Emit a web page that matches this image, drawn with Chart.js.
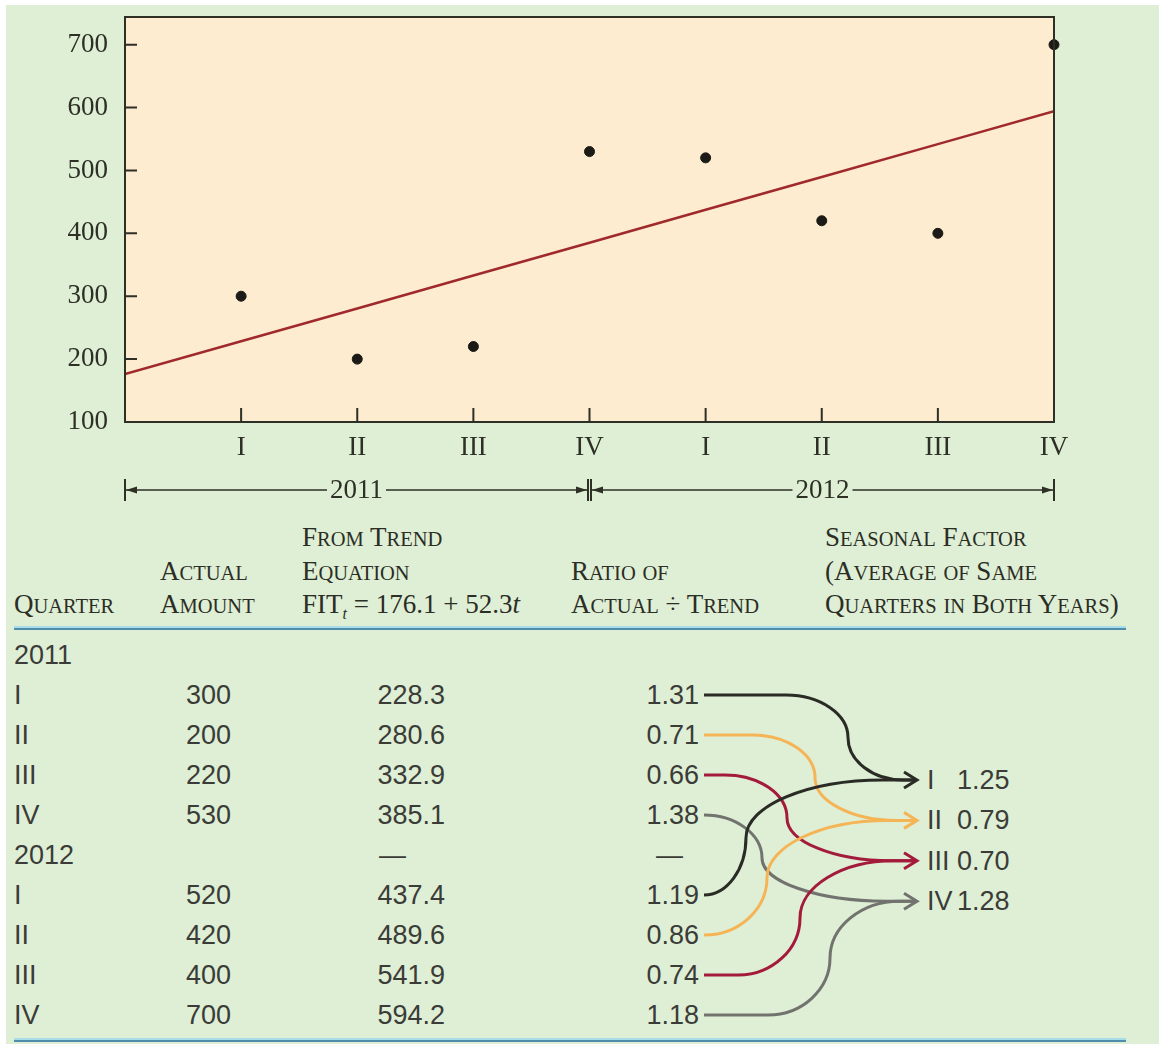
<!DOCTYPE html>
<html>
<head>
<meta charset="utf-8">
<script src="https://cdn.jsdelivr.net/npm/chart.js@4.4.0/dist/chart.umd.min.js"></script>
<style>
body { margin: 0; background: #fff; width: 1159px; height: 1044px; overflow: hidden; position: relative; }
#panel { position: absolute; left: 6px; top: 5px; width: 1153px; height: 1039px; background: #deefd6; }
#chartBox { position: absolute; left: 0; top: 0; width: 1159px; height: 520px; }
.hd { position: absolute; font-family: "Liberation Serif", serif; font-size: 27px; color: #2c2d24; white-space: nowrap; line-height: 30px; height: 30px; }
.hd small { font-size: 20.5px; }
.hd sub { font-size: 16px; font-style: italic; vertical-align: -6px; }
.cell { position: absolute; font-family: "Liberation Sans", Arial, sans-serif; font-size: 27px; color: #3b3c37; white-space: nowrap; line-height: 30px; height: 30px; }
.rule { position: absolute; left: 14px; width: 1112px; height: 2px; background: #4f8eaa; border-top: 2px solid #a9dce9; }
#links { position: absolute; left: 0; top: 0; }
</style>
</head>
<body>
<div id="panel"></div>
<div id="chartBox"><canvas id="chart"></canvas></div>
<div id="table"></div>
<svg id="links" width="1159" height="1044"></svg>
<script>
var quarterLabels = ['I', 'II', 'III', 'IV', 'I', 'II', 'III', 'IV'];
var yearLabels = ['2011', '2012'];
var actualAmount = [300, 200, 220, 530, 520, 420, 400, 700];
// FIT_t = 176.1 + 52.3t, for t = 0..8
var trendValues = [176.1, 228.3, 280.6, 332.9, 385.1, 437.4, 489.6, 541.9, 594.2];
var ratioValues = [1.31, 0.71, 0.66, 1.38, 1.19, 0.86, 0.74, 1.18];
var seasonalLabels = ['I', 'II', 'III', 'IV'];
var seasonalFactors = [1.25, 0.79, 0.70, 1.28];
var yTicks = [100, 200, 300, 400, 500, 600, 700];
var xTicks = [1, 2, 3, 4, 5, 6, 7, 8];

var inkColor = '#2e2f25';
var serifFont = { family: 'Liberation Serif', size: 27 };

var chartDecor = {
  id: 'chartDecor',
  beforeDraw: function(chart) {
    var a = chart.chartArea, ctx = chart.ctx;
    ctx.save();
    ctx.fillStyle = '#fdecd0';
    ctx.fillRect(a.left, a.top, a.right - a.left, a.bottom - a.top);
    ctx.restore();
  },
  afterDraw: function(chart) {
    var a = chart.chartArea, ctx = chart.ctx;
    var xs = chart.scales.x, ys = chart.scales.y;
    ctx.save();
    ctx.strokeStyle = inkColor;
    ctx.lineWidth = 2;
    ctx.strokeRect(a.left, a.top, a.right - a.left, a.bottom - a.top);

    // tick marks point into the plot
    ctx.beginPath();
    yTicks.forEach(function(v) {
      if (v === ys.min) return;
      var y = ys.getPixelForValue(v);
      ctx.moveTo(a.left, y);
      ctx.lineTo(a.left + 12, y);
    });
    xTicks.forEach(function(v) {
      var x = xs.getPixelForValue(v);
      ctx.moveTo(x, a.bottom);
      ctx.lineTo(x, a.bottom - 14);
    });
    ctx.stroke();

    // year brackets under the axis
    var by = 490;
    ctx.font = '27px "Liberation Serif"';
    ctx.textAlign = 'center';
    ctx.textBaseline = 'middle';
    ctx.fillStyle = inkColor;
    for (var k = 0; k < yearLabels.length; k++) {
      var l = xs.getPixelForValue(k * 4), r = xs.getPixelForValue(k * 4 + 4);
      if (k > 0) l += 1.5;
      if (k < yearLabels.length - 1) r -= 1.5;
      var mid = (l + r) / 2;
      var half = ctx.measureText(yearLabels[k]).width / 2 + 3;
      ctx.lineWidth = 2;
      ctx.beginPath();
      ctx.moveTo(l, by - 11); ctx.lineTo(l, by + 11);
      ctx.moveTo(r, by - 11); ctx.lineTo(r, by + 11);
      ctx.stroke();
      ctx.lineWidth = 1.6;
      ctx.beginPath();
      ctx.moveTo(l, by); ctx.lineTo(mid - half, by);
      ctx.moveTo(mid + half, by); ctx.lineTo(r, by);
      ctx.stroke();
      ctx.beginPath();
      ctx.moveTo(l + 1, by); ctx.lineTo(l + 12, by - 3.5); ctx.lineTo(l + 12, by + 3.5); ctx.closePath();
      ctx.moveTo(r - 1, by); ctx.lineTo(r - 12, by - 3.5); ctx.lineTo(r - 12, by + 3.5); ctx.closePath();
      ctx.fill();
      ctx.fillText(yearLabels[k], mid, by + 1);
    }
    ctx.restore();
  }
};

new Chart(document.getElementById('chart'), {
  type: 'scatter',
  data: {
    datasets: [{
      type: 'line',
      data: trendValues.map(function(v, t) { return { x: t, y: v }; }),
      borderColor: '#a0292b',
      borderWidth: 2.5,
      pointRadius: 0,
      fill: false
    }, {
      data: actualAmount.map(function(v, i) { return { x: i + 1, y: v }; }),
      backgroundColor: '#1c1a16',
      borderColor: '#1c1a16',
      pointRadius: 5,
      clip: false
    }]
  },
  options: {
    responsive: true,
    maintainAspectRatio: false,
    animation: false,
    layout: { padding: { top: 17, right: 105, bottom: 0, left: 0 } },
    plugins: { legend: { display: false }, tooltip: { enabled: false } },
    scales: {
      x: {
        type: 'linear', min: 0, max: 8,
        grid: { display: false, drawTicks: false }, border: { display: false },
        afterBuildTicks: function(s) { s.ticks = xTicks.map(function(v) { return { value: v }; }); },
        afterFit: function(s) { s.height = 98; s.paddingLeft = 0; s.paddingRight = 0; },
        ticks: {
          autoSkip: false, maxRotation: 0, padding: 10,
          font: serifFont, color: inkColor,
          callback: function(v) { return quarterLabels[v - 1]; }
        }
      },
      y: {
        min: 100, max: 744,
        grid: { display: false, drawTicks: false }, border: { display: false },
        afterBuildTicks: function(s) { s.ticks = yTicks.map(function(v) { return { value: v }; }); },
        afterFit: function(s) { s.width = 125; s.paddingTop = 0; s.paddingBottom = 0; },
        ticks: { padding: 17, font: serifFont, color: inkColor }
      }
    }
  },
  plugins: [chartDecor]
});

// table below the chart
var table = document.getElementById('table');
function put(cls, html, left, center, align) {
  var d = document.createElement('div');
  d.className = cls;
  d.innerHTML = html;
  d.style.top = (center - 15) + 'px';
  if (align === 'right') {
    d.style.left = (left - 200) + 'px';
    d.style.width = '200px';
    d.style.textAlign = 'right';
  } else {
    d.style.left = left + 'px';
  }
  table.appendChild(d);
}
function smallCaps(s) {
  return s.replace(/[a-z]+/g, function(m) { return '<small>' + m.toUpperCase() + '</small>'; });
}

var headers = [
  [302, 537, 'From Trend'], [825, 537, 'Seasonal Factor'],
  [160, 571, 'Actual'], [302, 571, 'Equation'], [571, 571, 'Ratio of'], [825, 571, '(Average of Same'],
  [14, 604, 'Quarter'], [160, 604, 'Amount'], [571, 604, 'Actual \u00f7 Trend'], [825, 604, 'Quarters in Both Years)']
];
headers.forEach(function(h) { put('hd', smallCaps(h[2]), h[0], h[1]); });
put('hd', 'FIT<sub>t</sub> = 176.1 + 52.3<i>t</i>', 302, 604);

var rule1 = document.createElement('div');
rule1.className = 'rule'; rule1.style.top = '626px';
table.appendChild(rule1);
var rule2 = document.createElement('div');
rule2.className = 'rule'; rule2.style.top = '1038px';
table.appendChild(rule2);

function rowCenter(r) { return 655 + 40 * r; }
function dataRow(i) { return i < 4 ? i + 1 : i + 2; }

yearLabels.forEach(function(y, k) { put('cell', y, 14, rowCenter(k * 5)); });
put('cell', '\u2014', 379, rowCenter(5));
put('cell', '\u2014', 656, rowCenter(5));
for (var i = 0; i < quarterLabels.length; i++) {
  var c = rowCenter(dataRow(i));
  put('cell', quarterLabels[i], 14, c);
  put('cell', String(actualAmount[i]), 231, c, 'right');
  put('cell', trendValues[i + 1].toFixed(1), 445, c, 'right');
  put('cell', ratioValues[i].toFixed(2), 699, c, 'right');
}

function seasonCenter(q) { return 780 + 40.4 * q; }
seasonalLabels.forEach(function(s, q) {
  put('cell', s, 927, seasonCenter(q));
  put('cell', seasonalFactors[q].toFixed(2), 957, seasonCenter(q));
});

// curves from each ratio to its seasonal factor
var linkColors = ['#2a2b25', '#f5b556', '#a31a3b', '#72736e'];
var bendX = [[848, 815, 787, 762], [746, 767, 800, 830]];
var svg = document.getElementById('links');
var ns = 'http://www.w3.org/2000/svg';
var tipX = 917;
function pt(x, y) { return x.toFixed(1) + ' ' + y.toFixed(1); }
for (var j = 0; j < ratioValues.length; j++) {
  var q = j % 4, yr = Math.floor(j / 4);
  var x0 = 704, y0 = rowCenter(dataRow(j)), y1 = seasonCenter(q), xv = bendX[yr][q];
  var ym = (y0 + y1) / 2;
  var r1 = Math.min(62, xv - x0), r2 = 0.8 * (tipX - xv);
  var k = 0.55;
  var d = 'M' + pt(x0, y0) + ' L' + pt(xv - r1, y0) +
    ' C' + pt(xv - r1 + k * r1, y0) + ' ' + pt(xv, ym - k * (ym - y0)) + ' ' + pt(xv, ym) +
    ' C' + pt(xv, ym + k * (y1 - ym)) + ' ' + pt(xv + r2 - k * r2, y1) + ' ' + pt(xv + r2, y1) +
    ' L' + pt(tipX - 1, y1);
  var p = document.createElementNS(ns, 'path');
  p.setAttribute('d', d);
  p.setAttribute('fill', 'none');
  p.setAttribute('stroke', linkColors[q]);
  p.setAttribute('stroke-width', '3');
  svg.appendChild(p);
  if (yr === 0) {
    var h = document.createElementNS(ns, 'path');
    h.setAttribute('d', 'M' + (tipX - 13) + ' ' + (y1 - 8) + ' L' + tipX + ' ' + y1 + ' L' + (tipX - 13) + ' ' + (y1 + 8));
    h.setAttribute('fill', 'none');
    h.setAttribute('stroke', linkColors[q]);
    h.setAttribute('stroke-width', '3');
    svg.appendChild(h);
  }
}
</script>
</body>
</html>
